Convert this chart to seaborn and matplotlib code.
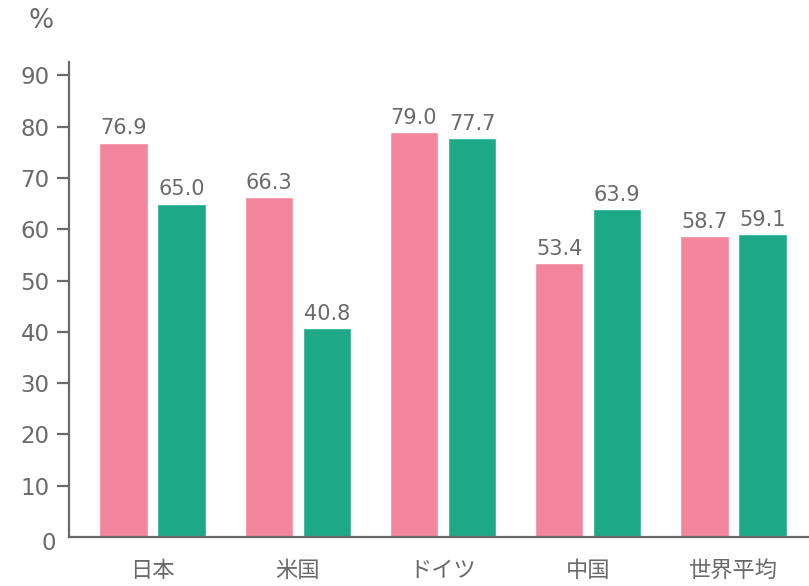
import matplotlib
matplotlib.use("Agg")
import matplotlib.pyplot as plt
import seaborn as sns
import pandas as pd

categories = ["日本", "米国", "ドイツ", "中国", "世界平均"]
series_names = ["A", "B"]
values_a = [76.9, 66.3, 79.0, 53.4, 58.7]
values_b = [65.0, 40.8, 77.7, 63.9, 59.1]
yticks = [10, 20, 30, 40, 50, 60, 70, 80, 90]

df = pd.DataFrame({
    "cat": categories * 2,
    "series": [series_names[0]] * len(categories) + [series_names[1]] * len(categories),
    "value": values_a + values_b,
})

sns.set_theme(style="white")
plt.rcParams["font.family"] = ["Noto Sans CJK JP", "DejaVu Sans"]

fig = plt.figure(figsize=(8.09, 5.86), dpi=100)
ax = fig.add_axes([69 / 809, 1 - 537 / 586, 1 - 69 / 809, (537 - 62) / 586])

pink = "#F3869C"
teal = "#1DA888"
txt = "#6a6a6a"
numfont = ["DejaVu Sans"]
sns.barplot(data=df, x="cat", y="value", hue="series", order=categories,
            hue_order=series_names, palette=[pink, teal], width=0.8, gap=0.17,
            saturation=1, legend=False, ax=ax)

for cont in ax.containers:
    ax.bar_label(cont, fmt="%.1f", padding=3, fontsize=15, color=txt,
                 family=numfont)

ax.set_xlim(-0.575, 4.52)
ax.set_ylim(0, 92.6)
ax.set_yticks(yticks)
ax.set_yticklabels([str(t) for t in yticks], family=numfont)
ax.set_xlabel("")
ax.set_ylabel("")
for s in ["top", "right"]:
    ax.spines[s].set_visible(False)
for s in ["left", "bottom"]:
    ax.spines[s].set_color("#6a6a6a")
    ax.spines[s].set_linewidth(1.6)
ax.tick_params(axis="y", length=9, width=1.6, color="#6a6a6a", pad=5,
               labelsize=16.5, labelcolor=txt, left=True)
ax.tick_params(axis="x", length=0, pad=16, labelsize=16, labelcolor=txt)

ax.text(-0.018, -1.3, "0", transform=ax.get_yaxis_transform(), ha="right",
        va="center", fontsize=16.5, color=txt, family=numfont)
ax.text(-0.038, 1.087, "%", transform=ax.transAxes, ha="center", va="center",
        fontsize=19, color=txt, family=numfont)

fig.savefig("out.png", dpi=100)
